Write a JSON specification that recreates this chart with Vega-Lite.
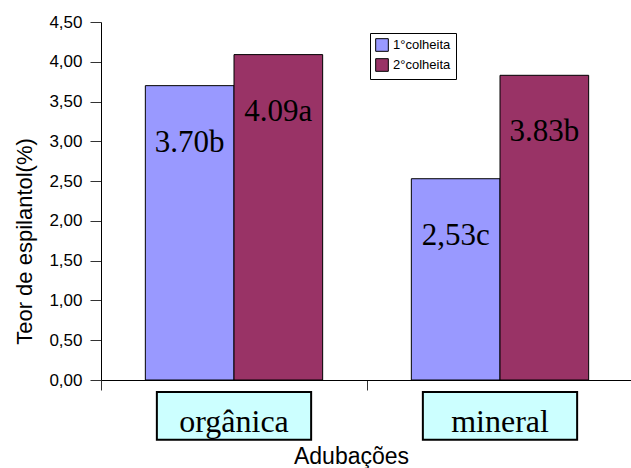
{
  "$schema": "https://vega.github.io/schema/vega-lite/v6.json",
  "autosize": {"type": "none"},
  "padding": {"left": 101, "top": 22, "right": 0, "bottom": 88},
  "width": 532,
  "height": 358,
  "background": "white",
  "config": {
    "view": {"stroke": null},
    "font": "Liberation Sans",
    "axisY": {
      "labelOverlap": false, "labelFlush": false,
      "grid": false, "tickSize": 11, "tickColor": "#333", "domainColor": "#000",
      "labelFont": "Liberation Sans", "labelFontSize": 17, "labelColor": "#000", "labelPadding": 8,
      "titleFont": "Liberation Sans", "titleFontSize": 22,
      "titleFontWeight": "normal", "titleColor": "#000", "titlePadding": 12, "titleY": 219
    }
  },
  "datasets": {
    "bars": [
      {"Adubação": "orgânica", "Colheita": "1°colheita", "teor": 3.70, "rotulo": "3.70b"},
      {"Adubação": "orgânica", "Colheita": "2°colheita", "teor": 4.09, "rotulo": "4.09a"},
      {"Adubação": "mineral", "Colheita": "1°colheita", "teor": 2.53, "rotulo": "2,53c"},
      {"Adubação": "mineral", "Colheita": "2°colheita", "teor": 3.83, "rotulo": "3.83b"}
    ],
    "cats": [
      {"Adubação": "orgânica"},
      {"Adubação": "mineral"}
    ]
  },
  "layer": [
    {
      "data": {"name": "bars"},
      "mark": {"type": "bar", "stroke": "#000", "strokeWidth": 1},
      "encoding": {
        "x": {
          "field": "Adubação", "type": "nominal", "sort": ["orgânica", "mineral"],
          "scale": {"paddingInner": 0, "paddingOuter": 0},
          "axis": {
            "labels": false, "tickBand": "extent", "tickSize": 10, "tickColor": "#333",
            "domainColor": "#000", "title": "Adubações", "titleFont": "Liberation Sans",
            "titleFontSize": 23, "titleFontWeight": "normal", "titleColor": "#000", "titlePadding": 55,
            "titleX": 250
          }
        },
        "xOffset": {"field": "Colheita", "type": "nominal", "scale": {"paddingOuter": 0.5, "paddingInner": 0}},
        "y": {
          "field": "teor", "type": "quantitative",
          "scale": {"domain": [0, 4.5], "nice": false, "zero": true},
          "axis": {
            "values": [0, 0.5, 1, 1.5, 2, 2.5, 3, 3.5, 4, 4.5],
            "labelExpr": "replace(format(datum.value, '.2f'), '.', ',')",
            "title": "Teor de espilantol(%)"
          }
        },
        "fill": {
          "field": "Colheita", "type": "nominal",
          "scale": {"domain": ["1°colheita", "2°colheita"], "range": ["#9999FF", "#993366"]},
          "legend": {
            "title": null, "orient": "none", "legendX": 269, "legendY": 11,
            "strokeColor": "#000", "fillColor": "#fff", "padding": 5,
            "symbolType": "square", "symbolSize": 160, "symbolStrokeColor": "#000", "symbolStrokeWidth": 1,
            "labelFont": "Liberation Sans", "labelFontSize": 13, "labelColor": "#000", "rowPadding": 2
          }
        }
      }
    },
    {
      "data": {"name": "bars"},
      "mark": {"type": "text", "font": "Liberation Serif", "fontSize": 31, "baseline": "alphabetic", "dy": 66, "color": "#000"},
      "encoding": {
        "x": {"field": "Adubação", "type": "nominal", "sort": ["orgânica", "mineral"]},
        "xOffset": {"field": "Colheita", "type": "nominal"},
        "y": {"field": "teor", "type": "quantitative",
          "axis": {
            "values": [0, 0.5, 1, 1.5, 2, 2.5, 3, 3.5, 4, 4.5],
            "labelExpr": "replace(format(datum.value, '.2f'), '.', ',')",
            "title": "Teor de espilantol(%)"
          }},
        "text": {"field": "rotulo"}
      }
    },
    {
      "data": {"name": "cats"},
      "mark": {"type": "bar", "fill": "#CCFFFF", "stroke": "#000", "strokeWidth": 2, "width": {"band": 0.58}, "clip": false},
      "encoding": {
        "x": {"field": "Adubação", "type": "nominal", "sort": ["orgânica", "mineral"]},
        "y": {"datum": -0.15, "type": "quantitative",
          "axis": {
            "values": [0, 0.5, 1, 1.5, 2, 2.5, 3, 3.5, 4, 4.5],
            "labelExpr": "replace(format(datum.value, '.2f'), '.', ',')",
            "title": "Teor de espilantol(%)"
          }},
        "y2": {"datum": -0.75}
      }
    },
    {
      "data": {"name": "cats"},
      "mark": {"type": "text", "font": "Liberation Serif", "fontSize": 32, "baseline": "alphabetic", "color": "#000", "clip": false},
      "encoding": {
        "x": {"field": "Adubação", "type": "nominal", "sort": ["orgânica", "mineral"]},
        "y": {"datum": -0.65, "type": "quantitative",
          "axis": {
            "values": [0, 0.5, 1, 1.5, 2, 2.5, 3, 3.5, 4, 4.5],
            "labelExpr": "replace(format(datum.value, '.2f'), '.', ',')",
            "title": "Teor de espilantol(%)"
          }},
        "text": {"field": "Adubação"}
      }
    }
  ]
}
